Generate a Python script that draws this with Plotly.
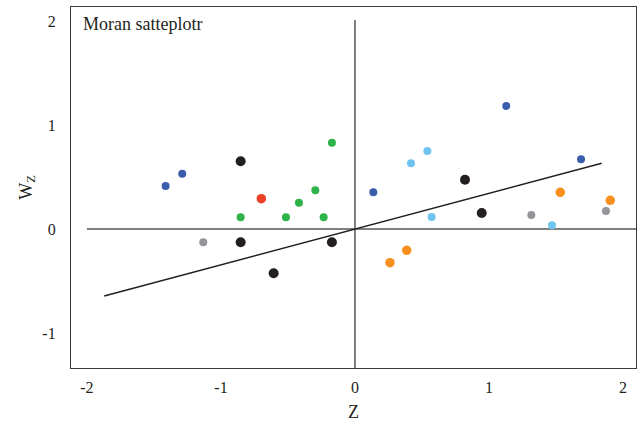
import plotly.graph_objects as go

# Data (Z, W_Z)
blue_x = [-1.413, -1.289, 0.137, 1.129, 1.687]
blue_y = [0.413, 0.532, 0.353, 1.183, 0.670]
lightblue_x = [0.540, 0.418, 0.572, 1.470]
lightblue_y = [0.750, 0.632, 0.115, 0.036]
green_x = [-0.172, -0.296, -0.418, -0.853, -0.515, -0.234]
green_y = [0.830, 0.372, 0.253, 0.113, 0.113, 0.113]
red_x = [-0.699]
red_y = [0.291]
black_x = [-0.853, -0.853, -0.172, -0.607, 0.821, 0.946]
black_y = [0.651, -0.128, -0.128, -0.426, 0.474, 0.154]
gray_x = [-1.132, 1.316, 1.873]
gray_y = [-0.128, 0.135, 0.173]
orange_x = [1.532, 1.905, 0.386, 0.261]
orange_y = [0.353, 0.276, -0.205, -0.324]

fit_x = [-1.871, 1.841]
fit_y = [-0.644, 0.632]

x_range = [-2.119, 2.097]
y_range = [-1.337, 2.135]
hline_x = [-2.0, 2.097]
vline_y = [-1.337, 2.01]

x_ticks = [-2, -1, 0, 1, 2]
x_ticktext = ["-2", "-1", "0", "1", "2"]
y_ticks = [-1, 0, 1, 2]
y_ticktext = ["-1", "0", "1", "2"]

FONT = "Liberation Serif"
TXT = "#231F20"

fig = go.Figure()

# quadrant axes
fig.add_trace(go.Scatter(x=hline_x, y=[0, 0], mode="lines",
                         line=dict(color="#555555", width=1.5), hoverinfo="skip"))
fig.add_trace(go.Scatter(x=[0, 0], y=vline_y, mode="lines",
                         line=dict(color="#555555", width=1.5), hoverinfo="skip"))
# regression line
fig.add_trace(go.Scatter(x=fit_x, y=fit_y, mode="lines",
                         line=dict(color="#231F20", width=1.4), hoverinfo="skip"))

groups = [
    (blue_x, blue_y, "#3A5DAE", 8),
    (lightblue_x, lightblue_y, "#6EC4EE", 8),
    (green_x, green_y, "#2DB34A", 8),
    (gray_x, gray_y, "#939598", 8),
    (orange_x, orange_y, "#F7901E", 9.5),
    (red_x, red_y, "#EE4023", 9.5),
    (black_x, black_y, "#231F20", 10),
]
for gx, gy, col, sz in groups:
    fig.add_trace(go.Scatter(x=gx, y=gy, mode="markers",
                             marker=dict(color=col, size=sz, line=dict(width=0))))

fig.add_annotation(text="Moran satteplotr", xref="paper", yref="paper",
                   x=0.018, y=0.985, xanchor="left", yanchor="top", showarrow=False,
                   font=dict(family=FONT, size=18, color=TXT))

fig.update_layout(
    width=640, height=424,
    margin=dict(l=71, r=4, t=7, b=56),
    paper_bgcolor="white", plot_bgcolor="white",
    showlegend=False,
    font=dict(family=FONT, size=16, color=TXT),
    xaxis=dict(range=x_range, tickvals=x_ticks, ticktext=x_ticktext,
               showgrid=False, zeroline=False,
               showline=True, mirror=True, linecolor="#3a3a3a", linewidth=1.2,
               ticks="", ticklen=0, automargin=False,
               title=dict(text="Z", standoff=10, font=dict(family=FONT, size=18, color=TXT))),
    yaxis=dict(range=y_range, tickvals=y_ticks, ticktext=y_ticktext,
               showgrid=False, zeroline=False,
               showline=True, mirror=True, linecolor="#3a3a3a", linewidth=1.2,
               ticks="", ticklen=0, automargin=False,
               title=dict(text="W<sub>Z</sub>", standoff=5, font=dict(family=FONT, size=18, color=TXT))),
)
fig.update_xaxes(ticklabelstandoff=5)
fig.update_yaxes(ticklabelstandoff=11)

fig.write_html("out.html", config={"displayModeBar": False},
               post_script="document.body.style.margin='0';document.body.style.overflow='hidden';")
